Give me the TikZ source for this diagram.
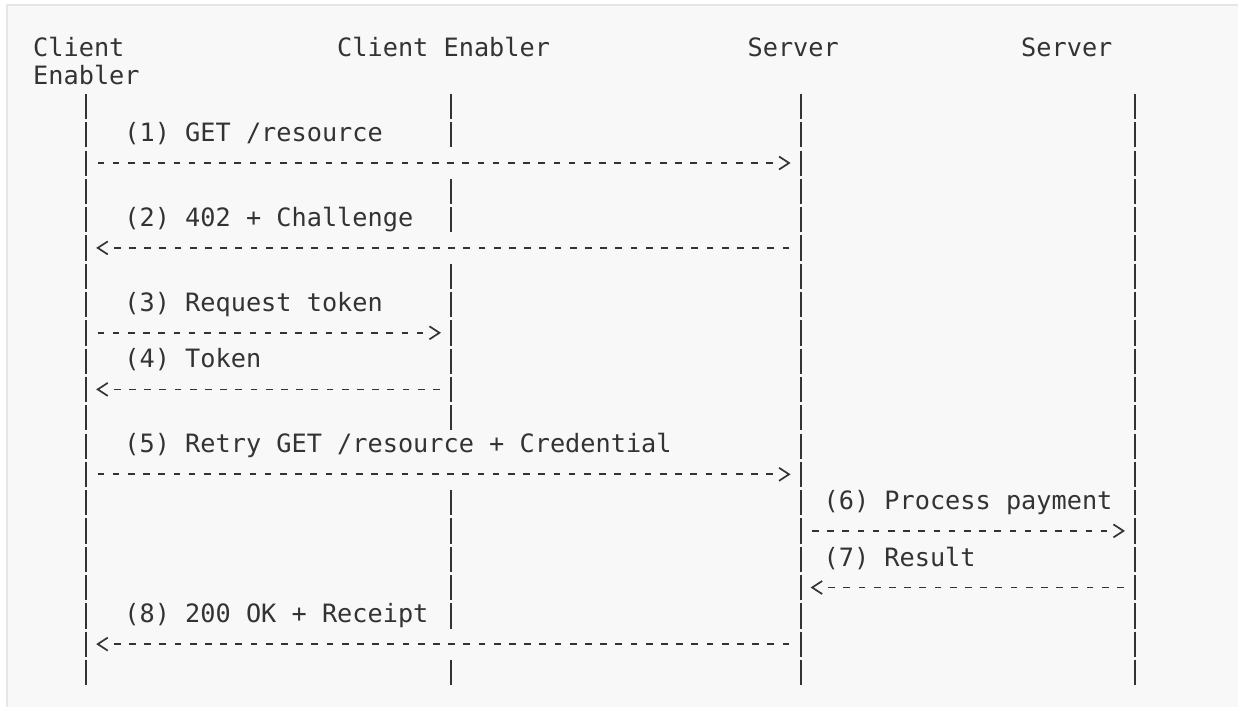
\documentclass[tikz,border=0pt]{standalone}
\usepackage{fontspec}
\setmonofont{DejaVu Sans Mono}
\usepackage{xcolor}
\usepackage{tikz}
\usetikzlibrary{arrows.meta}
\usetikzlibrary{decorations.markings}

\definecolor{preback}{HTML}{F8F8F8}
\definecolor{preedge}{HTML}{E6E6E6}
\definecolor{inkgray}{HTML}{333333}

\begin{document}
\begin{tikzpicture}[x=15.2pt, y=-28.3pt,
  txt/.style={anchor=base west, inner sep=0pt, text=inkgray,
    font=\ttfamily\fontsize{25.25pt}{28.3pt}\selectfont},
  life/.style={draw=inkgray, line width=1.8pt, dash pattern=on 25.2pt off 3.1pt},
  msg/.style={draw=inkgray, line width=1.8pt, dash pattern=on 6.7pt off 8.5pt,
    shorten <=11.3pt, shorten >=21pt,
    postaction={decorate, decoration={markings,
      mark=at position -10pt with {\arrow[inkgray, line width=1.7pt]{Straight Barb[length=10pt, width=13pt]}}}}}]

\useasboundingbox (-2.171,-2.0) rectangle (79.276,22.947);
\fill[white] (-2.171,-2.0) rectangle (79.276,22.947);
\draw[preedge, fill=preback, line width=1.5pt] (-1.711,-1.823) rectangle (80,24);

% participants
\path (0,0) node[txt] (cl) {Client};
\path (0,1) node[txt] (cl2) {Enabler};
\path (20,0) node[txt] (ce) {Client Enabler};
\path (47,0) node[txt] (sv) {Server};
\path (65,0) node[txt] (ps) {Server};

% lifelines
\coordinate (cl top) at (3.5,1.32);
\coordinate (cl bot) at (3.5,22.21);
\coordinate (sv top) at (50.5,1.32);
\coordinate (sv bot) at (50.5,22.21);
\coordinate (ps top) at (72.5,1.32);
\coordinate (ps bot) at (72.5,22.21);
\draw[life] (cl top) -- (cl bot);
\draw[life] (sv top) -- (sv bot);
\draw[life] (ps top) -- (ps bot);
\foreach \a/\b in {2/3,5/6,8/13,16/20,22/22} {
  \coordinate (ce top\a) at (27.5,{\a-0.68});
  \coordinate (ce bot\a) at (27.5,{\b+0.21});
  \draw[life] (ce top\a) -- (ce bot\a);
}

% message rows
\foreach \k in {4,7,10,12,15,17,19,21} {
  \coordinate (cl\k) at (3.5,{\k-0.24});
  \coordinate (ce\k) at (27.5,{\k-0.24});
  \coordinate (sv\k) at (50.5,{\k-0.24});
  \coordinate (ps\k) at (72.5,{\k-0.24});
}

\path (6,3) node[txt] (m1) {(1) GET /resource};
\path (6,6) node[txt] (m2) {(2) 402 + Challenge};
\path (6,9) node[txt] (m3) {(3) Request token};
\path (6,11) node[txt] (m4) {(4) Token};
\path (6,14) node[txt] (m5) {(5) Retry GET /resource + Credential};
\path (52,16) node[txt] (m6) {(6) Process payment};
\path (52,18) node[txt] (m7) {(7) Result};
\path (6,20) node[txt] (m8) {(8) 200 OK + Receipt};

\draw[msg] (cl4) -- (sv4);
\draw[msg] (sv7) -- (cl7);
\draw[msg] (cl10) -- (ce10);
\draw[msg] (ce12) -- (cl12);
\draw[msg] (cl15) -- (sv15);
\draw[msg] (sv17) -- (ps17);
\draw[msg] (ps19) -- (sv19);
\draw[msg] (sv21) -- (cl21);

\end{tikzpicture}
\end{document}
